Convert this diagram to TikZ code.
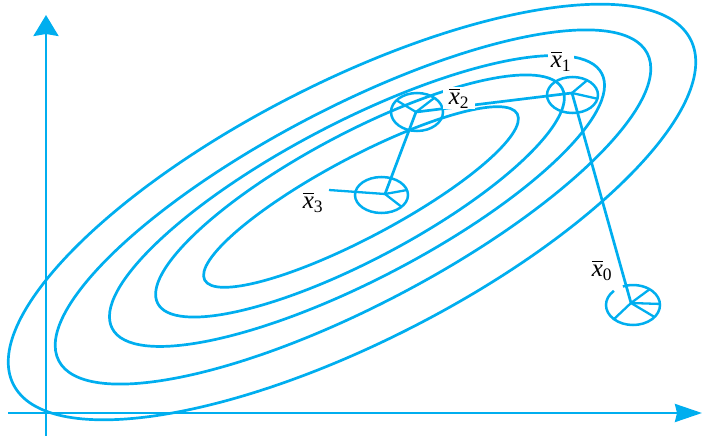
\documentclass[tikz,border=0pt]{standalone}
\usepackage{amsmath}
\usepackage{fontspec}
\setmainfont{Liberation Serif}
\usetikzlibrary{arrows.meta,calc}
\definecolor{cy}{RGB}{0,174,239}
\begin{document}
\begin{tikzpicture}[x=1pt,y=-1pt,
  curve/.style={draw=cy,line width=2.7pt},
  marker/.style={draw=cy,line width=2.5pt},
  spoke/.style={draw=cy,line width=2.3pt},
  lbl/.style={fill=white,inner xsep=3pt,inner ysep=0pt,font=\fontsize{25}{28}\selectfont}]
\useasboundingbox (0,0) rectangle (702,436);
% axes
\coordinate (ytop) at (46,15);
\coordinate (ybot) at (46,436);
\coordinate (xl) at (8,413);
\coordinate (xr) at (702,413);
\draw[curve,-{Stealth[length=21pt,width=25pt,inset=2pt]}] (ybot) -- (ytop);
\draw[curve,-{Stealth[length=27pt,width=18pt,inset=2pt]}] (xl) -- (xr);
% level curves
\draw[curve,rotate around={28:(361,197)}] (361,197) ellipse [x radius=177pt, y radius=40pt];
\draw[curve,rotate around={28:(360,196)}] (360,196) ellipse [x radius=229pt, y radius=63pt];
\draw[curve,rotate around={27.5:(357,201)}] (357,201) ellipse [x radius=276pt, y radius=79pt];
\draw[curve,rotate around={27.6:(353,207)}] (353,207) ellipse [x radius=332pt, y radius=99pt];
\draw[curve,rotate around={27:(352,212)}] (352,212) ellipse [x radius=380pt, y radius=130pt];
% simplex markers
\coordinate (m0) at (633,305); \coordinate (h0) at (631,303);
\coordinate (m1) at (572.5,95); \coordinate (h1) at (572,93);
\coordinate (m2) at (417,112); \coordinate (h2) at (416,112);
\coordinate (m3) at (381.5,195); \coordinate (h3) at (385,194);
\coordinate (t3) at (329,190);
\draw[marker] ($(m0)+(135:27pt and 20pt)$) arc[start angle=135, end angle=472, x radius=27pt, y radius=20pt];
\draw[marker] (m1) ellipse [x radius=25.5pt, y radius=18pt];
\draw[marker] (m2) ellipse [x radius=26pt, y radius=19pt];
\draw[marker] (m3) ellipse [x radius=26.5pt, y radius=18pt];
% spokes
\draw[spoke] (h0) -- ($(m0)+(52:27pt and 20pt)$);
\draw[spoke] (h0) -- ($(m0)+(3:27pt and 20pt)$);
\draw[spoke] (h0) -- ($(m0)+(-37:27pt and 20pt)$);
\draw[spoke] (h0) -- ($(m0)+(-135:27pt and 20pt)$);
\draw[spoke] (h1) -- ($(m1)+(55:25.5pt and 18pt)$);
\draw[spoke] (h1) -- ($(m1)+(-12:25.5pt and 18pt)$);
\draw[spoke] (h2) -- ($(m2)+(142:26pt and 19pt)$);
\draw[spoke] (h2) -- ($(m2)+(48:26pt and 19pt)$);
\draw[spoke] (h3) -- ($(m3)+(16:26.5pt and 18pt)$);
\draw[spoke] (h3) -- ($(m3)+(-41:26.5pt and 18pt)$);
\draw[spoke] (h3) -- (t3);
% path of the simplex
\draw[curve] (h3) -- (h2) -- (h1);
% labels
\node[lbl] (l0) at (602,270) {$\overline{\textit{x}}_{\textrm{0}}$};
\node[lbl] (l1) at (561,61) {$\overline{\textit{x}}_{\textrm{1}}$};
\node[lbl,inner xsep=6pt,inner ysep=1pt] (l2) at (459,98) {$\overline{\textit{x}}_{\textrm{2}}$};
\node[lbl] (l3) at (313,202) {$\overline{\textit{x}}_{\textrm{3}}$};
\draw[curve] (h1) -- (h0);
\end{tikzpicture}
\end{document}
